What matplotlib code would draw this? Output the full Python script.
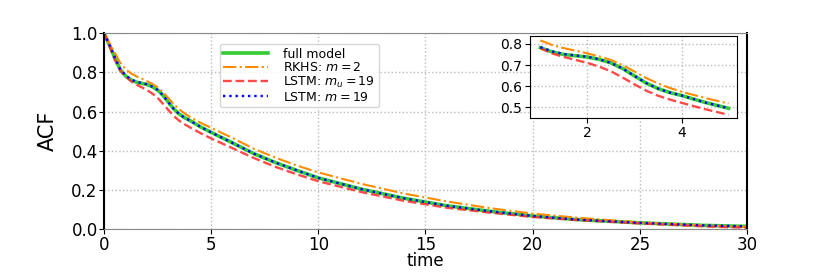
import matplotlib
matplotlib.use("Agg")
import matplotlib.pyplot as plt

# lag times and ACF estimates
t = [0, 0.25, 0.5, 0.75, 1, 1.25, 1.5, 1.75, 2, 2.25, 2.5, 2.75, 3, 3.25, 3.5, 3.75,
     4, 4.5, 5, 6, 7, 8, 9, 10, 12, 14, 16, 18, 20, 22, 25, 28, 30]

acf_full = [1.0, 0.94, 0.875, 0.815, 0.782, 0.762, 0.75, 0.744, 0.738, 0.727, 0.71, 0.683,
            0.648, 0.614, 0.588, 0.569, 0.555, 0.522, 0.494, 0.44, 0.385, 0.34, 0.30, 0.262,
            0.205, 0.158, 0.12, 0.092, 0.068, 0.05, 0.033, 0.02, 0.015]
acf_rkhs = [1.0, 0.95, 0.9, 0.85, 0.817, 0.795, 0.78, 0.768, 0.755, 0.741, 0.724, 0.699,
            0.669, 0.638, 0.612, 0.591, 0.573, 0.543, 0.517, 0.465, 0.41, 0.365, 0.325, 0.29,
            0.232, 0.182, 0.142, 0.108, 0.08, 0.06, 0.035, 0.02, 0.012]
acf_lstm_mu = [1.0, 0.935, 0.865, 0.81, 0.78, 0.755, 0.738, 0.724, 0.71, 0.692, 0.67, 0.64,
               0.608, 0.578, 0.554, 0.536, 0.52, 0.49, 0.463, 0.413, 0.363, 0.318, 0.28, 0.245,
               0.19, 0.145, 0.11, 0.085, 0.063, 0.048, 0.03, 0.015, 0.008]
acf_lstm_m = [1.0, 0.94, 0.877, 0.818, 0.785, 0.765, 0.752, 0.745, 0.739, 0.727, 0.71, 0.683,
              0.648, 0.614, 0.588, 0.569, 0.555, 0.522, 0.494, 0.44, 0.385, 0.34, 0.30, 0.262,
              0.205, 0.158, 0.12, 0.092, 0.068, 0.05, 0.033, 0.02, 0.015]

labels = ["full model", "RKHS: $m=2$", "LSTM: $m_u=19$", "LSTM: $m=19$"]
series = [acf_full, acf_rkhs, acf_lstm_mu, acf_lstm_m]
styles = [dict(color="#33cc33", ls="-", lw=2.6),
          dict(color="darkorange", ls="-.", lw=1.5),
          dict(color="#ff2a2a", ls="--", lw=1.7, alpha=0.85),
          dict(color="blue", ls=":", lw=1.7)]

fig = plt.figure(figsize=(8.3, 2.73), dpi=100)
ax = fig.add_axes([0.1253, 0.16, 0.7747, 0.719])
for y, lab, st in zip(series, labels, styles):
    ax.plot(t, y, label=lab, **st)

ax.set_xlim(0, 30)
ax.set_ylim(0, 1.0)
ax.set_xticks([0, 5, 10, 15, 20, 25, 30])
ax.set_yticks([0.0, 0.2, 0.4, 0.6, 0.8, 1.0])
ax.tick_params(labelsize=12, pad=1)
ax.grid(True, ls=":", color="#bbbbbb", lw=1)
ax.set_xlabel("time", fontsize=12, labelpad=-1)
ax.set_ylabel("ACF", fontsize=15, labelpad=10)
for s in ["top", "bottom"]:
    ax.spines[s].set_color("#888888")
for s in ["left", "right"]:
    ax.spines[s].set_color("black")
    ax.spines[s].set_linewidth(1.5)
ax.legend(loc="upper left", bbox_to_anchor=(0.18, 0.945), borderaxespad=0,
          fontsize=9, handlelength=3.6, labelspacing=0.05, borderpad=0.3,
          handletextpad=1.2)

# zoomed inset
ins = fig.add_axes([0.6386, 0.5678, 0.2494, 0.3004])
i0, i1 = t.index(1), t.index(5) + 1
for y, st in zip(series, styles):
    ins.plot(t[i0:i1], y[i0:i1], **st)
ins.set_xlim(0.78, 5.18)
ins.set_ylim(0.448, 0.838)
ins.set_xticks([2, 4])
ins.set_yticks([0.5, 0.6, 0.7, 0.8])
ins.tick_params(labelsize=10, pad=2)
ins.grid(True, ls=":", color="#bbbbbb", lw=1)

fig.savefig("out.png", dpi=100)
